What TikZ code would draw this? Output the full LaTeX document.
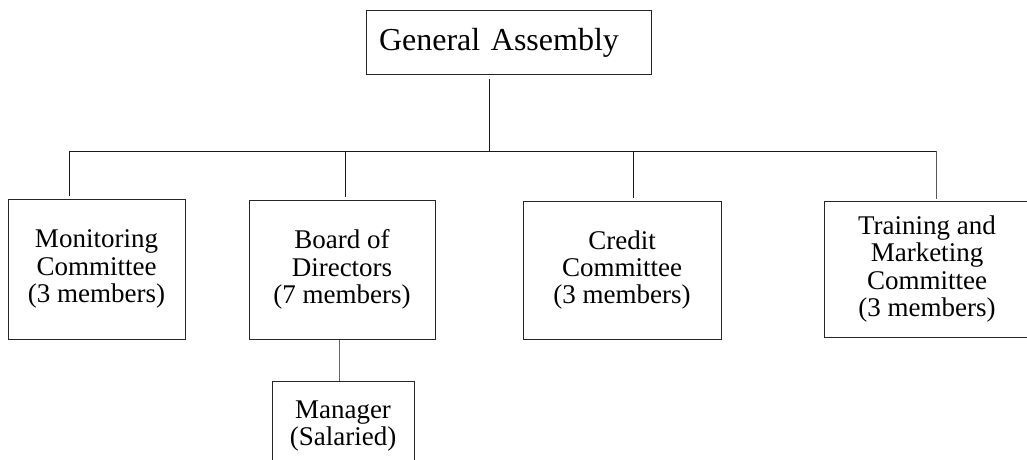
\documentclass[tikz,border=0pt]{standalone}
\usepackage{fontspec}
\setmainfont{Liberation Serif}
\begin{document}
\begin{tikzpicture}[x=1pt,y=-1pt,
  unit/.style={draw=black!85, line width=1pt, align=center, inner sep=0pt,
    font=\fontsize{27}{27.3}\selectfont},
  link/.style={line width=1pt, black!90}]
  \useasboundingbox (0,0) rectangle (1027,460);
  %% Top box
  \node[draw=black!85, line width=1pt, minimum width=285pt, minimum height=63pt,
    text width=259pt, inner xsep=13pt, align=left,
    font=\fontsize{32}{32}\selectfont] (GA) at (508.5,42.5) {General Assembly};
  %% Committees
  \node[unit, minimum width=177pt, minimum height=140pt] (MC) at (96.5,269) {Monitoring\\Committee\\(3 members)};
  \node[unit, minimum width=186pt, minimum height=139pt] (BD) at (342,269.5) {Board of\\Directors\\(7 members)};
  \node[unit, minimum width=198pt, minimum height=138pt] (CC) at (622,270) {Credit\\Committee\\(3 members)};
  \node[unit, minimum width=206pt, minimum height=136pt] (TM) at (927,269) {Training and\\Marketing\\Committee\\(3 members)};
  \node[unit, minimum width=142pt, minimum height=90pt] (MG) at (343,426) {Manager\\(Salaried)};
  %% Bus line
  \coordinate (top) at (489,151);
  \coordinate (jMC) at (69,151);
  \coordinate (jBD) at (345,151);
  \coordinate (jCC) at (633,151);
  \coordinate (jTM) at (936,151);
  \coordinate (mgr) at (339,360);
  \draw[link, shorten <=4pt] (GA.south -| top) -- (top);
  \draw[link] (jMC) -- (jTM);
  \foreach \n in {MC,BD,CC} \draw[link, shorten >=3pt] (j\n) -- (j\n |- \n.north);
  \draw[link, black!65, shorten >=2pt] (jTM) -- (jTM |- TM.north);
  %% Manager
  \draw[link, black!60] (BD.south -| mgr) -- (MG.north -| mgr);
\end{tikzpicture}
\end{document}
